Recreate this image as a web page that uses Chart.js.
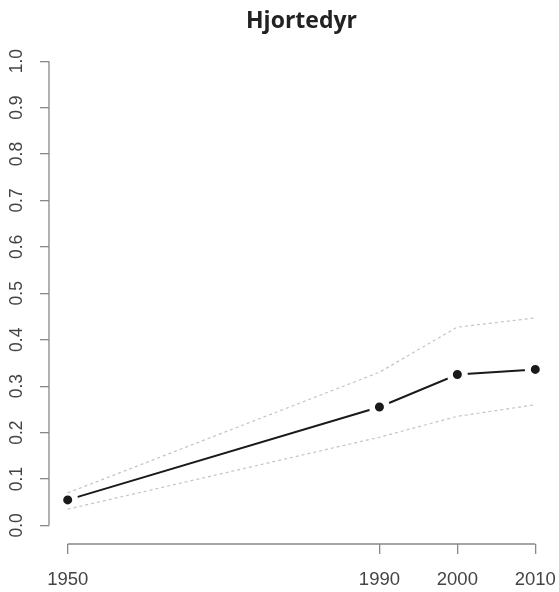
<!DOCTYPE html>
<html>
<head>
<meta charset="utf-8">
<script src="https://cdn.jsdelivr.net/npm/chart.js@4"></script>
<style>
  html, body { margin: 0; padding: 0; background: #fff; }
  #wrap { width: 559px; height: 592px; }
</style>
</head>
<body>
<div id="wrap"><canvas id="chart" width="559" height="592"></canvas></div>
<script>
// data
const years = [1950, 1990, 2000, 2010];
const estimate = [0.055, 0.255, 0.325, 0.336];
const upper = [0.070, 0.330, 0.427, 0.447];
const lower = [0.035, 0.190, 0.235, 0.260];
const xTicks = [1950, 1990, 2000, 2010];
const yTicks = [0, 0.1, 0.2, 0.3, 0.4, 0.5, 0.6, 0.7, 0.8, 0.9, 1.0];

function pts(vals) {
    return years.map(function(y, i) { return { x: y, y: vals[i] }; });
}

// R-style axis lines: only from first to last tick
const rAxes = {
    id: 'rAxes',
    afterDraw(chart) {
        const ctx = chart.ctx;
        const xs = chart.scales.x, ys = chart.scales.y;
        const area = chart.chartArea;
        ctx.save();
        ctx.strokeStyle = '#888';
        ctx.lineWidth = 1.3;
        ctx.beginPath();
        ctx.moveTo(xs.getPixelForValue(xTicks[0]), area.bottom);
        ctx.lineTo(xs.getPixelForValue(xTicks[xTicks.length - 1]), area.bottom);
        ctx.moveTo(area.left, ys.getPixelForValue(yTicks[0]));
        ctx.lineTo(area.left, ys.getPixelForValue(yTicks[yTicks.length - 1]));
        ctx.stroke();
        ctx.restore();
    }
};

const bandStyle = {
    borderColor: '#c4c4c4',
    borderWidth: 1.2,
    borderDash: [3, 3],
    pointRadius: 0,
    fill: false,
    order: 1
};

const ctx = document.getElementById('chart').getContext('2d');
new Chart(ctx, {
    type: 'line',
    data: {
        datasets: [
            {
                label: 'estimate',
                data: pts(estimate),
                borderColor: '#1a1a1a',
                borderWidth: 2,
                pointRadius: 7.5,
                pointBackgroundColor: '#1a1a1a',
                pointBorderColor: '#ffffff',
                pointBorderWidth: 6,
                order: 2
            },
            Object.assign({ label: 'upper', data: pts(upper) }, bandStyle),
            Object.assign({ label: 'lower', data: pts(lower) }, bandStyle)
        ]
    },
    options: {
        responsive: false,
        animation: false,
        layout: { autoPadding: false, padding: { right: 5 } },
        scales: {
            x: {
                type: 'linear',
                min: 1947.6,
                max: 2012.4,
                afterBuildTicks: function(scale) {
                    scale.ticks = xTicks.map(function(v) { return { value: v }; });
                },
                afterFit: function(scale) {
                    scale.height = 48;
                    scale.paddingLeft = 0;
                    scale.paddingRight = 0;
                },
                border: { display: false },
                grid: {
                    drawOnChartArea: false,
                    color: '#888',
                    lineWidth: 1.3,
                    tickLength: 10
                },
                ticks: {
                    color: '#444',
                    padding: 15,
                    maxRotation: 0,
                    font: { family: 'Liberation Sans', size: 18.5 },
                    callback: function(v) { return String(v); }
                }
            },
            y: {
                min: -0.04,
                max: 1.04,
                afterBuildTicks: function(scale) {
                    scale.ticks = yTicks.map(function(v) { return { value: v }; });
                },
                afterFit: function(scale) {
                    scale.width = 49;
                    scale.paddingTop = 0;
                    scale.paddingBottom = 0;
                },
                border: { display: false },
                grid: {
                    drawOnChartArea: false,
                    color: '#888',
                    lineWidth: 1.3,
                    tickLength: 9
                },
                ticks: {
                    color: '#444',
                    padding: 11,
                    minRotation: 90,
                    maxRotation: 90,
                    crossAlign: 'center',
                    font: { family: 'Liberation Sans', size: 17.5 },
                    callback: function(v) { return Number(v).toFixed(1); }
                }
            }
        },
        plugins: {
            legend: { display: false },
            tooltip: { enabled: false },
            title: {
                display: true,
                fullSize: false,
                text: 'Hjortedyr',
                color: '#222',
                font: { family: 'Open Sans', size: 23, weight: 'bold' },
                padding: { top: 8, bottom: 7 }
            }
        }
    },
    plugins: [rAxes]
});
</script>
</body>
</html>
